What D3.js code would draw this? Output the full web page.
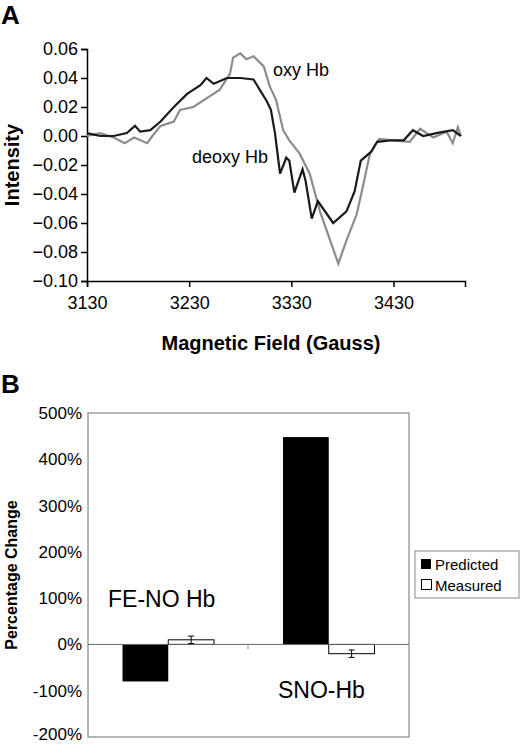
<!DOCTYPE html>
<html><head><meta charset="utf-8">
<script src="https://cdn.jsdelivr.net/npm/d3@7"></script>
<style>body{margin:0;background:#fff}text{font-family:"Liberation Sans",Arial,sans-serif}</style>
</head><body><svg id="c" width="520" height="744"></svg>
<script>
const deoxyField=[3130,3143,3156,3169,3177,3182,3192,3202,3215,3228,3241,3247,3254,3267,3280,3293,3299,3306,3310,3314,3317,3319,3325,3328,3333,3337,3341,3344,3350,3356,3371,3384,3392,3398,3408,3414,3427,3440,3449,3459,3472,3488,3496];
const deoxyInt=[0.002,0,0,0.002,0.007,0.003,0.004,0.01,0.02,0.029,0.035,0.04,0.036,0.04,0.04,0.039,0.032,0.024,0.018,0.002,-0.015,-0.026,-0.015,-0.017,-0.039,-0.031,-0.023,-0.031,-0.057,-0.045,-0.06,-0.052,-0.038,-0.017,-0.011,-0.004,-0.003,-0.003,0.004,0,0.002,0.004,0];
const oxyField=[3130,3143,3156,3167,3176,3189,3194,3202,3215,3221,3234,3247,3260,3270,3273,3280,3286,3293,3303,3309,3315,3322,3328,3338,3348,3358,3368,3376,3384,3394,3400,3407,3416,3429,3446,3456,3469,3482,3488,3493,3496];
const oxyInt=[0,0.002,-0.001,-0.005,-0.001,-0.005,0,0.007,0.01,0.018,0.02,0.026,0.032,0.043,0.054,0.057,0.053,0.055,0.048,0.034,0.025,0.004,-0.003,-0.012,-0.026,-0.052,-0.072,-0.088,-0.072,-0.054,-0.035,-0.012,-0.002,-0.003,-0.004,0.005,-0.001,0.003,-0.005,0.006,0];
const xTicksA=[3130,3230,3330,3430];
const yTicksA=[0.06,0.04,0.02,0,-0.02,-0.04,-0.06,-0.08,-0.10];
const categories=["FE-NO Hb","SNO-Hb"];
const predicted=[-0.80,4.48];
const measured=[0.10,-0.20];
const measuredErr=[0.08,0.08];
const yTicksB=[5,4,3,2,1,0,-1,-2];

const svg=d3.select("#c");
const xA=d3.scaleLinear().domain([3130,3500]).range([87,465]);
const yA=d3.scaleLinear().domain([-0.10,0.06]).range([281,49]);
svg.append("text").attr("x",1).attr("y",24).attr("font-size",26).attr("font-weight","bold").text("A");
const gx=svg.append("g").attr("transform","translate(0,281)").call(d3.axisBottom(xA).tickValues(xTicksA).tickSize(6).tickFormat(d3.format("d")));
gx.selectAll("text").attr("font-size",18).attr("dy","1.05em");
const gy=svg.append("g").attr("transform","translate(87,0)").call(d3.axisLeft(yA).tickValues(yTicksA).tickSize(6).tickFormat(d3.format(".2f")));
gy.selectAll("text").attr("font-size",18);
[gx,gy].forEach(g=>{g.selectAll("path,line").attr("stroke","#000").attr("stroke-width",1.5);g.selectAll("text").attr("fill","#000");});
const lineA=(xs,ys)=>d3.line().x((d,i)=>xA(xs[i])).y((d,i)=>yA(ys[i]))(ys);
svg.append("path").attr("d",lineA(oxyField,oxyInt)).attr("fill","none").attr("stroke","#8c8c8c").attr("stroke-width",2.2);
svg.append("path").attr("d",lineA(deoxyField,deoxyInt)).attr("fill","none").attr("stroke","#1a1a1a").attr("stroke-width",2.2);
svg.append("text").attr("x",273).attr("y",76).attr("font-size",18).text("oxy Hb");
svg.append("text").attr("x",192).attr("y",163).attr("font-size",18).text("deoxy Hb");
svg.append("text").attr("transform","translate(19,165) rotate(-90)").attr("text-anchor","middle").attr("font-size",20).attr("font-weight","bold").text("Intensity");
svg.append("text").attr("x",271).attr("y",350).attr("text-anchor","middle").attr("font-size",20).attr("font-weight","bold").text("Magnetic Field (Gauss)");

svg.append("text").attr("x",1).attr("y",393).attr("font-size",26).attr("font-weight","bold").text("B");
const x0=d3.scaleBand().domain(categories).range([88,409]).paddingInner(0.43).paddingOuter(0.215);
const x1=d3.scaleBand().domain(["p","m"]).range([0,x0.bandwidth()]);
const yB=d3.scaleLinear().domain([-2,5]).range([737,413]);
svg.append("rect").attr("x",88).attr("y",413).attr("width",321).attr("height",324).attr("fill","none").attr("stroke","#888").attr("stroke-width",1.2);
const gyb=svg.append("g").attr("transform","translate(88,0)").call(d3.axisLeft(yB).tickValues(yTicksB).tickSize(0).tickPadding(6).tickFormat(d=>Math.round(d*100)+"%"));
gyb.select("path").remove();
gyb.selectAll("text").attr("font-size",17).attr("fill","#000").attr("dy",d=>d===-2?"0.15em":"0.32em");
categories.forEach((c,i)=>{
  const xp=x0(c)+x1("p"), xm=x0(c)+x1("m"), w=x1.bandwidth();
  svg.append("rect").attr("x",xp).attr("y",yB(Math.max(0,predicted[i]))).attr("width",w).attr("height",Math.abs(yB(predicted[i])-yB(0))).attr("fill","#000");
  svg.append("rect").attr("x",xm).attr("y",yB(Math.max(0,measured[i]))).attr("width",w).attr("height",Math.abs(yB(measured[i])-yB(0))).attr("fill","#fff").attr("stroke","#000").attr("stroke-width",1);
  const cx=xm+w/2;
  svg.append("line").attr("x1",cx).attr("x2",cx).attr("y1",yB(measured[i]+measuredErr[i])).attr("y2",yB(measured[i]-measuredErr[i])).attr("stroke","#000");
  [measured[i]+measuredErr[i],measured[i]-measuredErr[i]].forEach(v=>svg.append("line").attr("x1",cx-3).attr("x2",cx+3).attr("y1",yB(v)).attr("y2",yB(v)).attr("stroke","#000"));
});
svg.append("line").attr("x1",88).attr("x2",409).attr("y1",yB(0)).attr("y2",yB(0)).attr("stroke","#666");
svg.append("line").attr("x1",248).attr("x2",248).attr("y1",yB(0)).attr("y2",yB(0)+5).attr("stroke","#888");
svg.append("text").attr("transform","translate(17,575) rotate(-90)").attr("text-anchor","middle").attr("font-size",16).attr("font-weight","bold").text("Percentage Change");
svg.append("text").attr("x",108).attr("y",607).attr("font-size",23).text(categories[0]);
svg.append("text").attr("x",278).attr("y",698).attr("font-size",23).text(categories[1]);
svg.append("rect").attr("x",415).attr("y",551).attr("width",104).attr("height",47).attr("fill","#fff").attr("stroke","#888");
svg.append("rect").attr("x",421).attr("y",559).attr("width",10).attr("height",10).attr("fill","#000");
svg.append("rect").attr("x",421.5).attr("y",579.5).attr("width",10).attr("height",10).attr("fill","#fff").attr("stroke","#000");
svg.append("text").attr("x",435).attr("y",570).attr("font-size",15).text("Predicted");
svg.append("text").attr("x",435).attr("y",591).attr("font-size",15).text("Measured");
</script></body></html>
